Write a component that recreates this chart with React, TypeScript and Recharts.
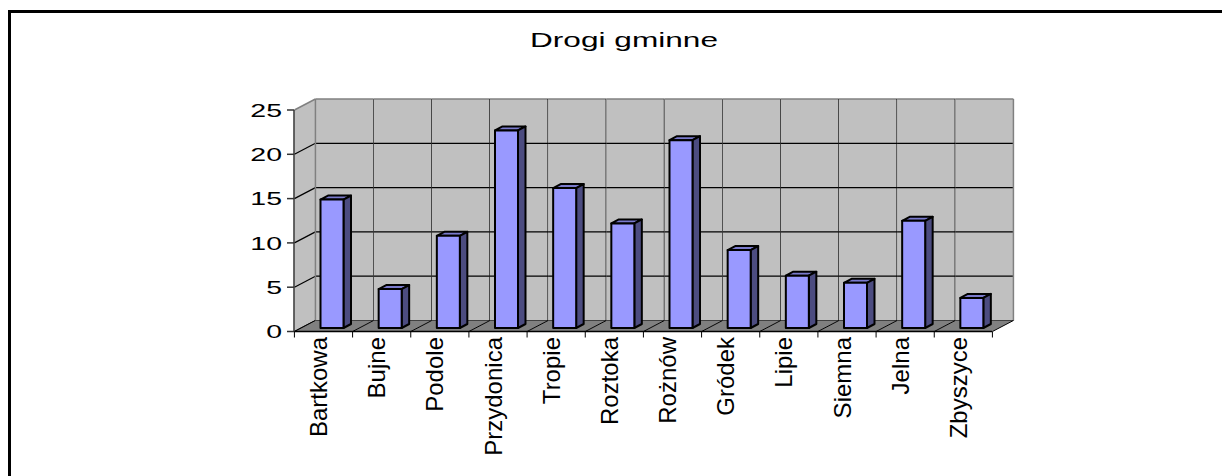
import { BarChart, Bar, XAxis, YAxis } from 'recharts';

// village names and lengths of municipal roads (km)
const villages = [
    'Bartkowa', 'Bujne', 'Podole', 'Przydonica', 'Tropie', 'Roztoka',
    'Rożnów', 'Gródek', 'Lipie', 'Siemna', 'Jelna', 'Zbyszyce',
];
const roadLengths = [14.5, 4.4, 10.4, 22.3, 15.8, 11.8, 21.2, 8.8, 5.9, 5.1, 12.1, 3.4];
const yTicks = [0, 5, 10, 15, 20, 25];

const chartData = villages.map((name, i) => ({ name, value: roadLengths[i] }));

const W = 1214;
const H = 468;
const AXIS_X = 286;
const TOP = 102;
const BOTTOM = 323.5;
const RIGHT = 984;
const YAXIS_W = 60;
const XAXIS_H = 140;
const CAT_W = (RIGHT - AXIS_X) / villages.length;
// depth of the 3d box (back wall offset)
const DX = 21;
const DY = -11;
// bar offset into the depth and bar thickness
const BX = 8.5;
const BY = -3.5;
const BDX = 7.5;
const BDY = -4;

const FONT = '"Liberation Sans", Arial, sans-serif';
const WALL = '#C0C0C0';
const FLOOR = '#808080';

const pts = (arr: number[][]) => arr.map((p) => p.join(',')).join(' ');

const WallSlice = (props: any) => {
    const { x, y, width, height, index } = props;
    const cx = x + width / 2;
    const l = cx - CAT_W / 2;
    const r = cx + CAT_W / 2;
    const top = y;
    const bot = y + height;
    const yOf = (v: number) => top + height * (1 - v / 25);
    const last = index === villages.length - 1;
    return (
        <g>
            {index === 0 && (
                <g>
                    <polygon
                        points={pts([[l, top], [l + DX, top + DY], [l + DX, bot + DY], [l, bot]])}
                        fill={WALL}
                        stroke="none"
                    />
                    {yTicks.slice(0, -1).map((v) => (
                        <line key={v} x1={l} y1={yOf(v)} x2={l + DX} y2={yOf(v) + DY} stroke="#000" strokeWidth={1.2} />
                    ))}
                    <line x1={l} y1={top} x2={l + DX} y2={top + DY} stroke="#808080" strokeWidth={1.5} />
                </g>
            )}
            <rect x={l + DX} y={top + DY} width={CAT_W} height={height} fill={WALL} />
            {yTicks.slice(0, -1).map((v) => (
                <line key={v} x1={l + DX} y1={yOf(v) + DY} x2={r + DX} y2={yOf(v) + DY} stroke="#000" strokeWidth={1.2} />
            ))}
            <line x1={l + DX} y1={top + DY} x2={r + DX} y2={top + DY} stroke="#808080" strokeWidth={1.5} />
            {index === 0 && (
                <line x1={l + DX} y1={top + DY} x2={l + DX} y2={bot + DY} stroke="#808080" strokeWidth={1.5} />
            )}
            <line
                x1={r + DX}
                y1={top + DY}
                x2={r + DX}
                y2={bot + DY}
                stroke={last ? '#808080' : '#000'}
                strokeWidth={last ? 1.5 : 1.2}
            />
            <polygon
                points={pts([[l, bot], [r, bot], [r + DX, bot + DY], [l + DX, bot + DY]])}
                fill={FLOOR}
                stroke="none"
            />
            <line x1={l} y1={bot} x2={l + DX} y2={bot + DY} stroke="#000" strokeWidth={1} />
            <line x1={l} y1={bot} x2={l} y2={bot + 6} stroke="#000" strokeWidth={1} />
            {last && (
                <g>
                    <line x1={r} y1={bot} x2={r + DX} y2={bot + DY} stroke="#000" strokeWidth={1} />
                    <line x1={r} y1={bot} x2={r} y2={bot + 6} stroke="#000" strokeWidth={1} />
                </g>
            )}
        </g>
    );
};

const Bar3D = (props: any) => {
    const { x, y, width, height } = props;
    const fx = x + BX;
    const fy = y + BY;
    return (
        <g stroke="#000" strokeWidth={2} strokeLinejoin="round">
            <polygon
                points={pts([[fx, fy], [fx + BDX, fy + BDY], [fx + width + BDX, fy + BDY], [fx + width, fy]])}
                fill="#7A7ACC"
            />
            <polygon
                points={pts([[fx + width, fy], [fx + width + BDX, fy + BDY], [fx + width + BDX, fy + height + BDY], [fx + width, fy + height]])}
                fill="#4C4C80"
            />
            <rect x={fx} y={fy} width={width} height={height} fill="#9999FF" />
        </g>
    );
};

const VillageTick = (props: any) => {
    const { x, payload } = props;
    return (
        <text
            transform={`translate(${x + 4}, ${BOTTOM + 5.5}) rotate(-90)`}
            textAnchor="end"
            fontSize={24}
            fontFamily={FONT}
            fill="#000"
        >
            {payload.value}
        </text>
    );
};

// the old chart renders the value labels stretched sideways
const ValueTick = (props: any) => {
    const { x, y, payload } = props;
    return (
        <text
            transform={`translate(${x}, ${y}) scale(1.5, 1)`}
            textAnchor="end"
            dominantBaseline="central"
            fontSize={19}
            fontFamily={FONT}
            fill="#000"
        >
            {payload.value}
        </text>
    );
};

export default function App() {
    return (
        <div style={{ position: 'relative', width: W, height: H }}>
            <style>{'html,body{overflow:hidden}'}</style>
            <div
                style={{
                    position: 'absolute',
                    left: 0,
                    top: 2,
                    width: 1260,
                    height: 520,
                    border: '3px solid #000',
                    boxSizing: 'border-box',
                }}
            />
            <div style={{ position: 'absolute', left: 0, top: 0 }}>
                <BarChart
                    width={W}
                    height={H}
                    data={chartData}
                    margin={{ top: TOP, left: AXIS_X - YAXIS_W, right: W - RIGHT, bottom: H - BOTTOM - XAXIS_H }}
                    barSize={23}
                >
                    <text
                        x={616}
                        y={38.5}
                        textAnchor="middle"
                        fontSize={21}
                        fontFamily={FONT}
                        fill="#000"
                        textLength={188}
                        lengthAdjust="spacingAndGlyphs"
                    >
                        Drogi gminne
                    </text>
                    <XAxis
                        dataKey="name"
                        interval={0}
                        height={XAXIS_H}
                        tickLine={false}
                        axisLine={{ stroke: '#000', strokeWidth: 1.5 }}
                        tick={<VillageTick />}
                    />
                    <YAxis
                        width={YAXIS_W}
                        domain={[0, 25]}
                        ticks={yTicks}
                        interval={0}
                        tickSize={7}
                        tickMargin={5}
                        axisLine={{ stroke: '#333', strokeWidth: 1.5 }}
                        tickLine={{ stroke: '#333', strokeWidth: 1.5 }}
                        tick={<ValueTick />}
                    />
                    <Bar
                        dataKey="value"
                        isAnimationActive={false}
                        background={(p: any) => <WallSlice key={`bg-${p.index}`} {...p} />}
                        shape={(p: any) => <Bar3D {...p} />}
                    />
                </BarChart>
            </div>
        </div>
    );
}
